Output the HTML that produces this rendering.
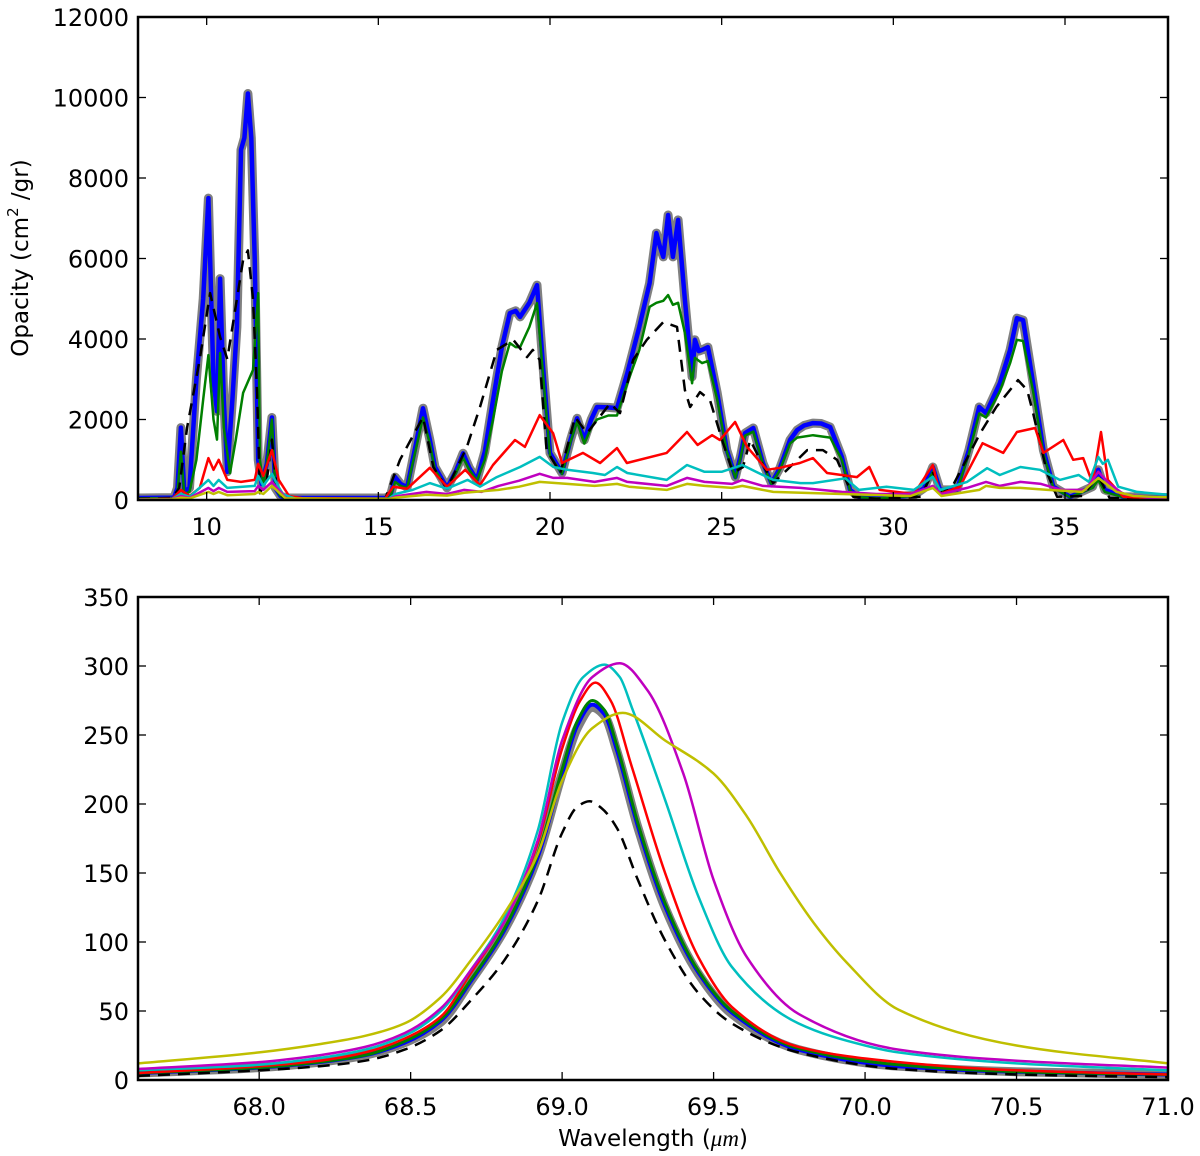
<!DOCTYPE html>
<html><head><meta charset="utf-8"><style>
html,body{margin:0;padding:0;background:#fff;}
svg{display:block;font-family:"DejaVu Sans","Liberation Sans",sans-serif;}
</style></head><body>
<svg id="fig" width="1200" height="1156" viewBox="0 0 1200 1156" xmlns="http://www.w3.org/2000/svg">
<defs>
<clipPath id="clipTop"><rect x="138" y="17" width="1030" height="483"/></clipPath>
<clipPath id="clipBot"><rect x="138" y="597" width="1030" height="483"/></clipPath>
</defs>
<text transform="translate(28,258) rotate(-90)" text-anchor="middle" font-size="23">Opacity (cm<tspan font-size="15" dy="-10">2</tspan><tspan dy="10"> /gr)</tspan></text>
<text x="653" y="1146" text-anchor="middle" font-size="23">Wavelength (<tspan font-style="italic" font-family="Liberation Serif, serif">μm</tspan>)</text>
</svg>
<script>
// ---- axis ticks ----
const topTicksX = [10, 15, 20, 25, 30, 35];
const topTicksY = [0, 2000, 4000, 6000, 8000, 10000, 12000];
const botTicksX = [68.0, 68.5, 69.0, 69.5, 70.0, 70.5, 71.0];
const botTickLabelsX = ["68.0","68.5","69.0","69.5","70.0","70.5","71.0"];
const botTicksY = [0, 50, 100, 150, 200, 250, 300, 350];

// ---- top panel data (wavelength, opacity) ----
const topBlue = [[8,50],[9.05,60],[9.15,300],[9.25,1800],[9.35,200],[9.5,300],[9.7,3000],[9.9,5000],[10.05,7500],[10.2,3000],[10.3,2200],[10.39,5500],[10.5,2500],[10.6,700],[10.75,2500],[10.88,4300],[11.0,8700],[11.1,9000],[11.2,10100],[11.3,9000],[11.4,6000],[11.5,1000],[11.6,400],[11.75,900],[11.9,2050],[12.0,300],[12.15,100],[12.3,50],[15.2,50],[15.35,100],[15.49,570],[15.65,400],[15.84,320],[16.05,1200],[16.3,2280],[16.5,1500],[16.65,820],[17.0,300],[17.25,700],[17.47,1160],[17.65,800],[17.87,500],[18.1,1200],[18.34,2480],[18.6,3800],[18.83,4640],[19.0,4700],[19.13,4550],[19.4,4900],[19.62,5340],[19.8,3300],[20.0,1170],[20.35,670],[20.6,1500],[20.79,2030],[21.0,1490],[21.2,2000],[21.37,2310],[21.7,2300],[21.95,2280],[22.25,3150],[22.6,4300],[22.9,5390],[23.1,6630],[23.2,6300],[23.3,6040],[23.44,7080],[23.58,6040],[23.73,6960],[23.93,4970],[24.14,3060],[24.22,3980],[24.33,3700],[24.43,3730],[24.6,3800],[24.87,2660],[25.15,1240],[25.4,570],[25.55,1100],[25.68,1660],[25.92,1790],[26.2,920],[26.45,420],[26.7,800],[26.99,1490],[27.2,1740],[27.4,1850],[27.66,1910],[27.9,1900],[28.16,1810],[28.5,1070],[28.74,250],[29.0,80],[29.6,50],[30.6,120],[30.9,300],[31.15,820],[31.36,250],[31.85,250],[32.2,1240],[32.5,2310],[32.7,2160],[33.1,2900],[33.4,3730],[33.6,4520],[33.78,4470],[34.07,2900],[34.37,1240],[34.66,330],[35.15,80],[35.8,330],[35.97,750],[36.16,250],[36.7,80],[38,60]];
const topGreen = [[8,40],[9.05,50],[9.15,200],[9.25,1200],[9.35,150],[9.5,200],[9.7,1000],[9.9,2500],[10.05,3600],[10.2,2000],[10.3,1500],[10.39,3650],[10.5,1800],[10.68,670],[10.85,1500],[11.06,2660],[11.35,3230],[11.5,5140],[11.55,1000],[11.65,400],[11.75,900],[11.9,2000],[12.0,300],[12.15,100],[12.3,40],[15.2,40],[15.35,80],[15.49,450],[15.65,350],[15.84,300],[16.05,1100],[16.3,2050],[16.5,1400],[16.65,750],[17.0,280],[17.25,650],[17.47,1050],[17.65,750],[17.87,480],[18.1,1000],[18.34,2000],[18.6,3200],[18.83,3900],[19.0,3800],[19.13,3800],[19.4,4300],[19.62,4890],[19.8,3100],[20.0,1100],[20.35,650],[20.6,1450],[20.79,1950],[21.0,1400],[21.2,1800],[21.37,2000],[21.7,2100],[21.95,2100],[22.25,2900],[22.6,3730],[22.9,4800],[23.1,4900],[23.3,4950],[23.44,5090],[23.58,4850],[23.73,4900],[23.93,4150],[24.14,2900],[24.22,3530],[24.43,3400],[24.6,3450],[24.87,2500],[25.15,1200],[25.4,550],[25.55,1050],[25.68,1600],[25.92,1700],[26.2,900],[26.45,400],[26.7,750],[26.99,1400],[27.2,1550],[27.66,1610],[28.16,1550],[28.5,1000],[28.74,230],[29.0,70],[29.6,40],[30.6,100],[30.9,250],[31.15,700],[31.36,220],[31.85,230],[32.2,1150],[32.5,2150],[32.7,2050],[33.1,2700],[33.4,3400],[33.6,3980],[33.78,3950],[34.07,2700],[34.37,1150],[34.66,300],[35.15,70],[35.8,300],[35.97,500],[36.16,200],[36.7,70],[38,50]];
const topDashed = [[8,30],[9.0,50],[9.2,300],[9.43,1800],[9.8,3500],[10.1,5140],[10.39,4050],[10.6,3500],[11.06,5960],[11.2,6200],[11.35,5000],[11.47,2660],[11.55,170],[11.75,500],[11.9,1500],[12.05,200],[12.3,30],[15.2,30],[15.63,1000],[16.3,2060],[16.6,820],[17.0,280],[17.58,1320],[17.96,2310],[18.45,3730],[18.93,3980],[19.33,3550],[19.5,3730],[19.7,3480],[19.9,1240],[20.3,670],[20.73,2060],[21.08,1660],[21.75,2400],[22.04,2160],[22.42,3480],[22.82,3980],[23.3,4420],[23.7,4300],[23.93,2730],[24.08,2310],[24.37,2680],[24.66,2480],[25.04,1420],[25.33,670],[25.62,820],[25.83,1490],[26.12,1000],[26.5,420],[26.99,820],[27.49,1240],[27.95,1240],[28.36,1000],[28.83,80],[29.5,30],[30.8,80],[31.15,700],[31.4,150],[31.74,370],[32.53,1660],[33.0,2310],[33.63,2980],[33.9,2730],[34.07,2160],[34.48,670],[34.77,80],[35.5,100],[35.97,600],[36.3,50],[38,20]];
const topRed = [[8,20],[9.0,30],[9.25,250],[9.5,100],[9.8,300],[10.05,1040],[10.2,750],[10.35,1000],[10.6,500],[11.0,450],[11.4,500],[11.5,900],[11.65,600],[11.9,1240],[12.1,500],[12.4,100],[12.8,40],[15.2,40],[15.43,330],[15.84,280],[16.5,800],[17.0,330],[17.53,750],[17.96,370],[18.34,870],[18.98,1490],[19.27,1320],[19.7,2110],[20.09,1660],[20.35,920],[20.96,1170],[21.46,920],[21.95,1290],[22.24,920],[23.4,1170],[23.99,1690],[24.3,1370],[24.72,1610],[24.95,1490],[25.39,1940],[25.74,1320],[26.32,750],[26.7,800],[27.28,920],[27.66,1040],[28.07,670],[28.94,570],[29.3,820],[29.6,250],[30.6,150],[31.15,870],[31.36,150],[31.94,330],[32.6,1410],[33.2,1170],[33.6,1690],[34.13,1790],[34.37,1170],[34.95,1490],[35.24,1000],[35.53,1040],[35.8,420],[36.05,1690],[36.25,500],[36.7,80],[38,30]];
const topCyan = [[8,20],[9.0,25],[9.25,150],[9.5,80],[10.05,500],[10.2,350],[10.35,500],[10.6,300],[11.4,350],[11.5,600],[11.65,350],[11.9,650],[12.2,150],[12.6,30],[15.3,30],[15.5,150],[16.0,250],[16.5,420],[17.0,280],[17.6,500],[17.96,330],[18.45,570],[19.13,820],[19.7,1070],[20.1,820],[20.5,750],[21.25,670],[21.6,620],[21.95,820],[22.25,670],[23.4,500],[23.99,870],[24.5,700],[25.0,700],[25.6,870],[26.0,700],[26.5,500],[27.3,420],[27.66,420],[28.6,540],[29.0,250],[29.8,330],[30.6,250],[31.15,580],[31.36,250],[32.15,450],[32.73,790],[33.1,620],[33.7,820],[34.27,750],[34.85,500],[35.4,620],[35.7,450],[35.97,1070],[36.1,900],[36.25,1000],[36.55,330],[37.1,200],[38,130]];
const topMagenta = [[8,15],[9.0,20],[9.25,100],[9.5,50],[10.05,300],[10.2,220],[10.35,300],[10.6,200],[11.4,220],[11.5,350],[11.65,250],[11.9,450],[12.3,50],[12.6,20],[15.3,20],[15.5,90],[16.4,200],[17.0,150],[17.5,250],[18.0,200],[18.5,350],[19.1,480],[19.7,650],[20.1,550],[20.5,550],[21.3,450],[21.95,550],[22.25,450],[23.4,350],[23.99,550],[24.5,450],[25.3,400],[25.6,500],[26.2,350],[27.3,300],[28.5,200],[29.5,150],[30.5,150],[31.15,350],[31.4,150],[32.15,300],[32.7,450],[33.1,350],[33.7,450],[34.3,400],[34.9,250],[35.6,250],[35.97,700],[36.3,400],[36.7,150],[37.5,50],[38,30]];
const topYellow = [[8,10],[9.0,15],[9.25,60],[9.5,40],[10.05,200],[10.2,150],[10.35,200],[10.6,120],[11.4,150],[11.5,200],[11.65,150],[11.9,350],[12.3,40],[15.3,20],[15.5,60],[16.4,130],[17.0,110],[17.5,180],[18.5,250],[19.1,330],[19.7,450],[20.5,400],[21.3,350],[21.95,400],[22.3,330],[23.4,250],[23.99,400],[24.5,350],[25.3,300],[25.6,350],[26.5,200],[28.5,150],[30.5,100],[31.15,300],[31.4,100],[32.5,250],[32.7,350],[33.1,300],[33.7,300],[34.5,250],[35.5,200],[35.97,550],[36.5,200],[37,100],[38,70]];

// ---- bottom panel data ----
const botGray = [[67.6,5],[68.0,9],[68.2,13],[68.35,18],[68.48,27],[68.6,42],[68.7,72],[68.81,109],[68.92,162],[69.0,222],[69.05,255],[69.1,270],[69.14,264],[69.18,239],[69.25,183],[69.34,125],[69.45,77],[69.56,48],[69.78,22],[70.11,10],[70.5,6],[71.0,4]];
const botBlue = [[67.6,5],[68.0,9],[68.2,13],[68.35,18],[68.48,27],[68.6,43],[68.7,72],[68.81,109],[68.92,162],[69.0,222],[69.05,257],[69.1,272],[69.14,265],[69.18,240],[69.25,184],[69.34,126],[69.45,78],[69.56,49],[69.78,22],[70.11,10],[70.5,6],[71.0,4]];
const botGreen = [[67.6,5],[68.0,9],[68.2,13],[68.35,18],[68.48,28],[68.6,44],[68.7,73],[68.81,110],[68.92,164],[69.0,225],[69.05,260],[69.1,275],[69.14,268],[69.18,243],[69.25,186],[69.34,128],[69.45,79],[69.56,50],[69.78,23],[70.11,11],[70.5,6],[71.0,4]];
const botRed = [[67.6,5],[68.0,10],[68.2,14],[68.35,20],[68.48,30],[68.6,46],[68.7,78],[68.81,115],[68.92,172],[69.0,240],[69.06,275],[69.11,288],[69.16,275],[69.23,227],[69.34,150],[69.45,89],[69.56,53],[69.78,24],[70.11,13],[70.5,7],[71.0,4]];
const botCyan = [[67.6,7],[68.0,11],[68.2,16],[68.35,22],[68.48,32],[68.6,50],[68.7,80],[68.81,118],[68.92,181],[69.0,259],[69.07,292],[69.14,301],[69.19,292],[69.23,270],[69.34,203],[69.45,133],[69.56,82],[69.78,41],[70.0,25],[70.11,20],[70.5,12],[71.0,7]];
const botMagenta = [[67.6,8],[68.0,13],[68.2,18],[68.35,24],[68.48,34],[68.6,52],[68.7,80],[68.81,115],[68.92,174],[69.0,246],[69.1,292],[69.19,302],[69.28,283],[69.4,222],[69.5,145],[69.61,89],[69.78,48],[70.11,22],[70.5,14],[71.0,9]];
const botYellow = [[67.6,12],[68.0,20],[68.2,26],[68.35,32],[68.48,41],[68.6,60],[68.7,87],[68.81,121],[68.92,164],[69.0,217],[69.1,255],[69.2,266],[69.34,246],[69.5,222],[69.61,191],[69.72,150],[69.83,114],[69.94,85],[70.11,51],[70.5,25],[71.0,12]];
const botDashed = [[67.6,3],[68.0,7],[68.2,10],[68.35,14],[68.48,22],[68.6,36],[68.7,58],[68.81,87],[68.92,130],[69.0,179],[69.05,198],[69.09,202],[69.13,197],[69.18,183],[69.25,145],[69.34,101],[69.45,63],[69.56,41],[69.78,20],[70.11,8],[70.5,4],[71.0,2]];

const NS = "http://www.w3.org/2000/svg";
const svg = document.getElementById("fig");
const L = 138, R = 1168;
const top1 = {t:17, b:500, x0:8, x1:38, y0:0, y1:12000};
const bot1 = {t:597, b:1080, x0:67.6, x1:71.0, y0:0, y1:350};
function sx(p, v){ return L + (v - p.x0) / (p.x1 - p.x0) * (R - L); }
function sy(p, v){ return p.b - (v - p.y0) / (p.y1 - p.y0) * (p.b - p.t); }
function mk(tag, attrs){ const e = document.createElementNS(NS, tag); for (const k in attrs) e.setAttribute(k, attrs[k]); return e; }

// monotone cubic (Fritsch-Carlson) path through pixel points
function pathD(P, smooth){
  if (!smooth) return "M" + P.map(q => q[0].toFixed(1) + "," + q[1].toFixed(1)).join(" L");
  const n = P.length, d = [], m = [];
  for (let i = 0; i < n - 1; i++) d.push((P[i+1][1] - P[i][1]) / (P[i+1][0] - P[i][0]));
  m[0] = d[0]; m[n-1] = d[n-2];
  for (let i = 1; i < n - 1; i++) {
    if (d[i-1] * d[i] <= 0) m[i] = 0;
    else {
      const h0 = P[i][0] - P[i-1][0], h1 = P[i+1][0] - P[i][0];
      const w1 = 2*h1 + h0, w2 = h1 + 2*h0;
      m[i] = (w1 + w2) / (w1 / d[i-1] + w2 / d[i]);
    }
  }
  let s = "M" + P[0][0].toFixed(1) + "," + P[0][1].toFixed(1);
  for (let i = 0; i < n - 1; i++) {
    const h = (P[i+1][0] - P[i][0]) / 3;
    s += " C" + (P[i][0] + h).toFixed(1) + "," + (P[i][1] + m[i]*h).toFixed(1) + " " +
         (P[i+1][0] - h).toFixed(1) + "," + (P[i+1][1] - m[i+1]*h).toFixed(1) + " " +
         P[i+1][0].toFixed(1) + "," + P[i+1][1].toFixed(1);
  }
  return s;
}

function drawSeries(p, data, clip, color, width, dash, name, smooth){
  const P = data.map(d => [sx(p, d[0]), sy(p, d[1])]);
  const pl = mk("path", {d: pathD(P, smooth), fill: "none", stroke: color, "stroke-width": width, "stroke-linejoin": "round", "stroke-linecap": "round", "clip-path": "url(#" + clip + ")"});
  if (dash) { pl.setAttribute("stroke-dasharray", dash); pl.setAttribute("stroke-linecap", "butt"); }
  
  
  svg.appendChild(pl);
}

function drawAxes(p, ticksX, labelsX, ticksY, prefix){
  ticksX.forEach((t, i) => {
    const x = sx(p, t);
    const a = mk("line", {x1: x, x2: x, y1: p.b, y2: p.b - 8, stroke: "#000", "stroke-width": 1.3});
    
    
    svg.appendChild(a);
    const b = mk("line", {x1: x, x2: x, y1: p.t, y2: p.t + 8, stroke: "#000", "stroke-width": 1.3});
    
    
    svg.appendChild(b);
    const tx = mk("text", {x: x, y: p.b + 35, "text-anchor": "middle", "font-size": 24});
    tx.textContent = labelsX[i];
    
    
    svg.appendChild(tx);
  });
  ticksY.forEach(t => {
    const y = sy(p, t);
    const a = mk("line", {x1: L, x2: L + 8, y1: y, y2: y, stroke: "#000", "stroke-width": 1.3});
    
    
    svg.appendChild(a);
    const b = mk("line", {x1: R, x2: R - 8, y1: y, y2: y, stroke: "#000", "stroke-width": 1.3});
    
    
    svg.appendChild(b);
    const tx = mk("text", {x: L - 9, y: y + 9, "text-anchor": "end", "font-size": 24});
    tx.textContent = String(t);
    
    
    svg.appendChild(tx);
  });
  const fr = mk("rect", {x: L, y: p.t, width: R - L, height: p.b - p.t, fill: "none", stroke: "#000", "stroke-width": 2.5});
  
  
  svg.appendChild(fr);
}

// top panel
drawSeries(top1, topBlue, "clipTop", "#808080", 9, null, "top-gray-total-line", false);
drawSeries(top1, topBlue, "clipTop", "#0000ff", 4.5, null, "top-blue-line", false);
drawSeries(top1, topGreen, "clipTop", "#008000", 2.5, null, "top-green-line", false);
drawSeries(top1, topDashed, "clipTop", "#000000", 2.5, "12 8", "top-black-dashed-line", false);
drawSeries(top1, topRed, "clipTop", "#ff0000", 2.5, null, "top-red-line", false);
drawSeries(top1, topCyan, "clipTop", "#00bfbf", 2.5, null, "top-cyan-line", false);
drawSeries(top1, topMagenta, "clipTop", "#bf00bf", 2.5, null, "top-magenta-line", false);
drawSeries(top1, topYellow, "clipTop", "#bfbf00", 2.5, null, "top-yellow-line", false);
drawAxes(top1, topTicksX, topTicksX.map(String), topTicksY, "top");

// bottom panel
drawSeries(bot1, botGray, "clipBot", "#808080", 9, null, "bottom-gray-line", true);
drawSeries(bot1, botBlue, "clipBot", "#0000ff", 4, null, "bottom-blue-line", true);
drawSeries(bot1, botGreen, "clipBot", "#008000", 3, null, "bottom-green-line", true);
drawSeries(bot1, botRed, "clipBot", "#ff0000", 2.5, null, "bottom-red-line", true);
drawSeries(bot1, botCyan, "clipBot", "#00bfbf", 2.5, null, "bottom-cyan-line", true);
drawSeries(bot1, botMagenta, "clipBot", "#bf00bf", 2.5, null, "bottom-magenta-line", true);
drawSeries(bot1, botYellow, "clipBot", "#bfbf00", 2.5, null, "bottom-yellow-line", true);
drawSeries(bot1, botDashed, "clipBot", "#000000", 2.5, "12 8", "bottom-black-dashed-line", true);
drawAxes(bot1, botTicksX, botTickLabelsX, botTicksY, "bottom");
</script>
</body></html>
